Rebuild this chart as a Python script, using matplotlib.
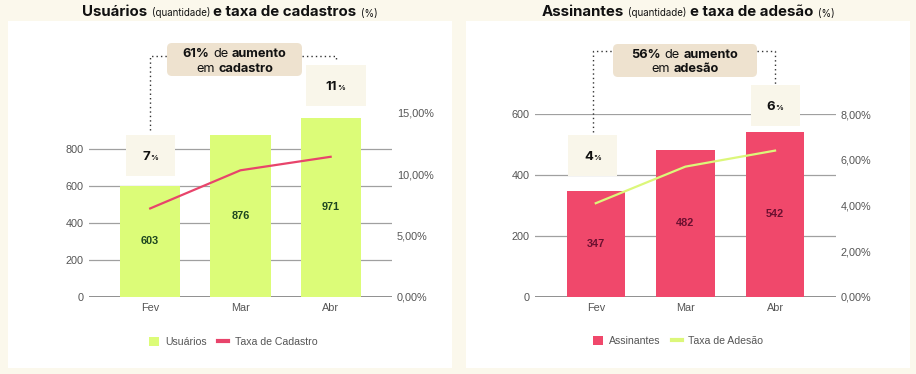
import matplotlib.pyplot as plt
from matplotlib.patches import FancyBboxPatch, Rectangle
from matplotlib.lines import Line2D
from matplotlib import transforms
from matplotlib.ticker import FuncFormatter

W, H = 916, 374
meses = ['Fev', 'Mar', 'Abr']
usuarios = [603, 876, 971]
taxa_cadastro = [7.2, 10.3, 11.4]
assinantes = [347, 482, 542]
taxa_adesao = [4.1, 5.7, 6.4]

BG = '#fbf8ec'
CALLOUT = '#eee2cf'
TAGBOX = '#f9f6ea'
LIME = '#dcfc78'
RED = '#f0486b'
TXT = '#111111'
AXFONT = 'Liberation Sans'

fig = plt.figure(figsize=(W / 100, H / 100), dpi=100)
fig.patch.set_facecolor(BG)
ident = transforms.IdentityTransform()
r = fig.canvas.get_renderer()


def px_rect(x0, y0, x1, y1, color, rounded=False, z=1):
    # pixel coords measured from top-left
    if rounded:
        p = FancyBboxPatch((x0, H - y1), x1 - x0, y1 - y0,
                           boxstyle='round,pad=0,rounding_size=5',
                           fc=color, ec='none', transform=ident, zorder=z)
    else:
        p = Rectangle((x0, H - y1), x1 - x0, y1 - y0, fc=color, ec='none',
                      transform=ident, zorder=z)
    fig.add_artist(p)


def rich(parts, x, y, family='Inter', color=TXT, gap=True):
    # parts: (text, size, weight); centred on x, baseline at y (px from top)
    texts, widths, gaps = [], [], []
    for s, size, weight in parts:
        t = fig.text(0, 0, s, fontsize=size, fontweight=weight, family=family,
                     va='baseline', ha='left', color=color, zorder=3)
        texts.append(t)
        widths.append(t.get_window_extent(r).width)
        gaps.append(size * 0.42 if gap else 0.5)
    total = sum(widths) + sum(gaps[:-1])
    x0 = x - total / 2
    for t, w, g in zip(texts, widths, gaps):
        t.set_position((x0 / W, 1 - y / H))
        x0 += w + g


def tag(x, y0, y1, w, valor):
    px_rect(x - w / 2, y0, x + w / 2, y1, TAGBOX, z=2)
    rich([(str(valor), 9.5, 'bold'), ('%', 5.5, 'bold')], x, (y0 + y1) / 2 + 4.5, gap=False)


def dotted(xs, ys):
    fig.add_artist(Line2D(xs, [H - v for v in ys], transform=ident, color='#333333',
                          lw=1, linestyle=(0, (1, 2.2)), zorder=2))


def grafico(left, right, top_px, ymax, pmax, pticks, yticks, barras, taxa,
            bar_color, line_color, label_color, nomes, width):
    ax = fig.add_axes([left / W, (H - 297) / H, (right - left) / W, (297 - top_px) / H])
    ax.set_facecolor('none')
    x = range(len(meses))
    bars = ax.bar(x, barras, width=width, color=bar_color, label=nomes[0], zorder=2)
    for rect, v in zip(bars, barras):
        ax.text(rect.get_x() + rect.get_width() / 2, v / 2, str(v), ha='center',
                va='center', fontsize=7.8, fontweight='bold', color=label_color,
                family=AXFONT, zorder=3)
    ax.set_ylim(0, ymax)
    ax.set_yticks(yticks)
    ax.grid(axis='y', color='#a0a0a0', lw=0.9, zorder=0)
    ax.axhline(0, color='#707070', lw=1.1, zorder=1)
    ax.set_xticks(list(x))
    ax.set_xticklabels(meses)
    ax.set_xlim(-0.678, 2.68)
    for s in ax.spines.values():
        s.set_visible(False)
    ax.tick_params(length=0, labelsize=7.8, labelcolor='#555555', pad=4)
    for t in ax.get_xticklabels() + ax.get_yticklabels():
        t.set_family(AXFONT)

    ax2 = ax.twinx()
    ax2.plot(x, taxa, color=line_color, lw=1.6, label=nomes[1])
    ax2.set_ylim(0, pmax)
    ax2.set_yticks(pticks)
    ax2.yaxis.set_major_formatter(FuncFormatter(lambda v, _: f'{v:.2f}'.replace('.', ',') + '%'))
    for s in ax2.spines.values():
        s.set_visible(False)
    ax2.tick_params(length=0, labelsize=7.8, labelcolor='#555555', pad=3.5)
    for t in ax2.get_yticklabels():
        t.set_family(AXFONT)

    h = [Rectangle((0, 0), 1, 1, fc=bar_color, ec='none'),
         Line2D([], [], color=line_color, lw=3)]
    return ax, h


def legenda(h, nomes, cx, cy):
    fig.legend(h, nomes, loc='center', bbox_to_anchor=(cx / W, 1 - cy / H), ncol=2,
               frameon=False, prop={'family': AXFONT, 'size': 7.6}, handlelength=1.0,
               handleheight=1.0, handletextpad=0.6, columnspacing=1.0,
               labelcolor='#555555')


# painéis brancos
px_rect(8, 21, 452, 368, 'white', z=-1)
px_rect(466, 21, 910, 368, 'white', z=-1)

# ---- gráfico 1: usuários
ax1, h1 = grafico(89, 392, 112.5, 1000, 15, [0, 5, 10, 15], [0, 200, 400, 600, 800],
                  usuarios, taxa_cadastro, LIME, '#e8446b', '#1e4620',
                  ['Usuários', 'Taxa de Cadastro'], 0.667)
legenda(h1, ['Usuários', 'Taxa de Cadastro'], 233, 342)

xa = ax1.transData.transform((0, 0))[0]
xb = ax1.transData.transform((2, 0))[0]
aumento1 = round((usuarios[-1] - usuarios[0]) / usuarios[0] * 100)
dotted([xa, xa, 167], [130, 56, 56])
dotted([302, xb + 5, xb + 5], [56, 56, 62])
px_rect(167, 43, 302, 76, CALLOUT, rounded=True, z=2)
rich([(f'{aumento1}%', 9.2, 'bold'), ('de', 9.2, 'normal'), ('aumento', 9.2, 'bold')], 234.5, 57)
rich([('em', 9.2, 'normal'), ('cadastro', 9.2, 'bold')], 234.5, 71.5)
tag(xa, 135, 176, 49, round(taxa_cadastro[0]))
tag(xb + 5, 65, 106, 60, round(taxa_cadastro[-1]))

rich([('Usuários', 10.8, 'bold'), ('(quantidade)', 7, 'normal'),
      ('e taxa de cadastros', 10.8, 'bold'), ('(%)', 7, 'normal')], 230, 16.5)

# ---- gráfico 2: assinantes
ax2, h2 = grafico(535, 836, 114, 600, 8, [0, 2, 4, 6, 8], [0, 200, 400, 600],
                  assinantes, taxa_adesao, RED, '#dcf77a', '#6b1030',
                  ['Assinantes', 'Taxa de Adesão'], 0.65)
legenda(h2, ['Assinantes', 'Taxa de Adesão'], 678, 341)

xa = ax2.transData.transform((0, 0))[0]
xb = ax2.transData.transform((2, 0))[0]
aumento2 = round((assinantes[-1] - assinantes[0]) / assinantes[0] * 100)
dotted([xa - 3, xa - 3, 613], [132, 51, 51])
dotted([757, xb, xb], [51, 51, 84])
px_rect(613, 44, 757, 77, CALLOUT, rounded=True, z=2)
rich([(f'{aumento2}%', 9.2, 'bold'), ('de', 9.2, 'normal'), ('aumento', 9.2, 'bold')], 685, 58)
rich([('em', 9.2, 'normal'), ('adesão', 9.2, 'bold')], 685, 72.5)
tag(xa - 3, 135, 176, 49, round(taxa_adesao[0]))
tag(xb, 85, 126, 49, round(taxa_adesao[-1]))

rich([('Assinantes', 10.8, 'bold'), ('(quantidade)', 7, 'normal'),
      ('e taxa de adesão', 10.8, 'bold'), ('(%)', 7, 'normal')], 688, 16.5)

fig.savefig('out.png', dpi=100, facecolor=BG)
